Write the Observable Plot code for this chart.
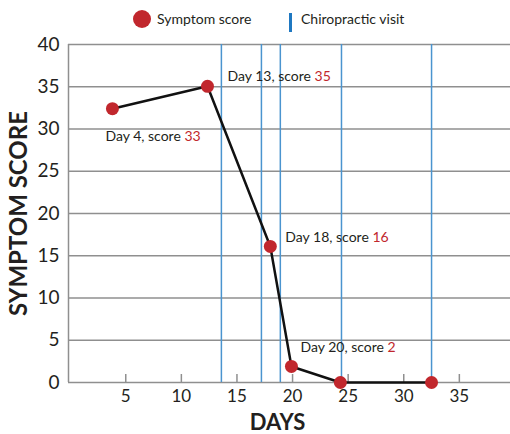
<!DOCTYPE html>
<html>
<head>
<meta charset="utf-8">
<script src="https://cdn.jsdelivr.net/npm/d3@7"></script>
<script src="https://cdn.jsdelivr.net/npm/@observablehq/plot@0.6"></script>
<style>
  body { margin: 0; background: #fff; }
  #wrap { position: relative; width: 510px; height: 434px; font-family: Lato, sans-serif; color: #231f20; }
  #chart { position: absolute; left: 0; top: 0; }
  .leg { position: absolute; font-size: 14px; line-height: 18px; }
  .dot { position: absolute; width: 18px; height: 18px; border-radius: 50%; background: #c1272d; }
  .bar { position: absolute; width: 2.5px; background: #1f78c1; }
</style>
</head>
<body>
<div id="wrap">
  <div id="chart"></div>
  <div class="dot" style="left:133px; top:10px;"></div>
  <div class="leg" style="left:157px; top:10px;">Symptom score</div>
  <div class="bar" style="left:289px; top:13px; height:19px;"></div>
  <div class="leg" style="left:301px; top:10px;">Chiropractic visit</div>
</div>
<script>
// Data
const days = [3.8, 12.35, 18.0, 19.9, 24.3, 32.5];
const scores = [32.4, 35.05, 16.1, 1.9, 0, 0];
const visitDays = [13.6, 17.2, 18.9, 24.4, 32.5];
const labelDays = [4, 13, 18, 20];
const labelScores = [33, 35, 16, 2];
const yTicks = [0, 5, 10, 15, 20, 25, 30, 35, 40];
const xTicks = [5, 10, 15, 20, 25, 30, 35];

const points = days.map((d, i) => ({day: d, score: scores[i]}));
const labelText = i => `Day ${labelDays[i]}, score ${labelScores[i]}`;

const RED = "#c1272d";
const BLUE = "#4a94cf";
const GRID = "#8f8f8f";
const INK = "#231f20";

function annot(i, dx, dy) {
  return Plot.text([i], {
    x: j => days[j], y: j => scores[j], text: labelText,
    textAnchor: "start", dx, dy, fontSize: 14, fill: INK
  });
}

const chart = Plot.plot({
  width: 510,
  height: 434,
  marginLeft: 68,
  marginRight: 0,
  marginTop: 44,
  marginBottom: 52,
  style: {fontFamily: "Lato, sans-serif", background: "transparent", overflow: "visible", color: INK},
  x: {domain: [-0.15, 39.6]},
  y: {domain: [0, 40]},
  marks: [
    Plot.ruleY(yTicks, {stroke: GRID, strokeWidth: 1.5}),
    Plot.ruleX([-0.15], {stroke: GRID, strokeWidth: 1.5}),
    Plot.ruleX(visitDays, {y1: 0, y2: 40, stroke: BLUE, strokeWidth: 1.5}),
    Plot.ruleX(xTicks, {y1: 0, y2: 0, insetTop: -8, stroke: GRID, strokeWidth: 1.5}),
    Plot.axisY(yTicks, {tickSize: 0, tickPadding: 9, fontSize: 19, fill: INK, label: null}),
    Plot.axisX(xTicks, {tickSize: 0, tickPadding: 7, fontSize: 17, fill: INK, label: null}),
    Plot.line(points, {x: "day", y: "score", stroke: "#111", strokeWidth: 2.5}),
    Plot.dot(points, {x: "day", y: "score", r: 6.5, fill: RED, stroke: "none"}),
    annot(0, -7, 28),
    annot(1, 20, -10),
    annot(2, 15, -9),
    annot(3, 9, -19),
    Plot.text(["SYMPTOM SCORE"], {frameAnchor: "left", textAnchor: "middle", lineAnchor: "middle", rotate: -90, dx: -49, fontSize: 24, fontWeight: "bold", fill: INK}),
    Plot.text(["DAYS"], {frameAnchor: "bottom", textAnchor: "middle", lineAnchor: "middle", dx: -12, dy: 40, fontSize: 22, fontWeight: "bold", fill: INK})
  ]
});

// Colour the score number in each annotation red
chart.querySelectorAll("text").forEach(t => {
  const s = t.textContent;
  if (!/^Day \d+, score \d+$/.test(s)) return;
  const k = s.lastIndexOf(" ");
  t.textContent = "";
  const a = document.createElementNS("http://www.w3.org/2000/svg", "tspan");
  a.textContent = s.slice(0, k + 1);
  const b = document.createElementNS("http://www.w3.org/2000/svg", "tspan");
  b.textContent = s.slice(k + 1);
  b.setAttribute("fill", RED);
  t.appendChild(a);
  t.appendChild(b);
});

document.getElementById("chart").appendChild(chart);
</script>
</body>
</html>
